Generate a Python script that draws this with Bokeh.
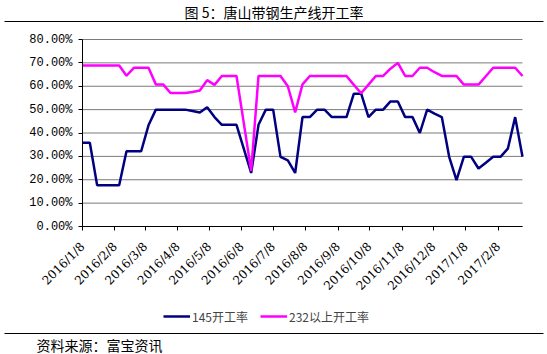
import pandas as pd
from bokeh.plotting import figure
from bokeh.models import (Range1d, FixedTicker, NumeralTickFormatter, Label, Legend,
                          LegendItem, Arrow)
from bokeh.embed import file_html
from bokeh.resources import INLINE

# ---------------- data ----------------
first_week = "2016-01-08"
n_weeks = 61
week_dates = pd.date_range(first_week, periods=n_weeks, freq="7D")

rate_145 = [35.8, 35.8, 17.6, 17.6, 17.6, 17.6, 32.2, 32.2, 32.2, 43.3,
            50.0, 50.0, 50.0, 50.0, 50.0, 49.4, 48.8, 51.0, 46.8, 43.5,
            43.5, 43.5, 33.2, 22.9, 43.5, 50.0, 50.0, 29.8, 28.3, 22.9,
            46.8, 46.8, 50.0, 50.0, 46.8, 46.8, 46.8, 56.8, 56.8, 46.8,
            50.0, 50.0, 53.5, 53.5, 46.8, 46.8, 40.0, 50.0, 48.3, 46.8,
            29.8, 19.8, 29.8, 29.8, 24.8, 27.3, 29.8, 29.8, 33.3, 46.8,
            29.8]

rate_232 = [68.9, 68.9, 68.9, 68.9, 68.9, 68.9, 64.5, 67.9, 67.9, 67.9,
            60.8, 60.8, 57.1, 57.1, 57.1, 57.5, 58.2, 62.6, 60.6, 64.4,
            64.4, 64.4, 44.1, 23.8, 64.4, 64.4, 64.4, 64.4, 60.0, 48.8,
            60.8, 64.4, 64.4, 64.4, 64.4, 64.4, 64.4, 60.6, 57.0, 60.7,
            64.4, 64.4, 67.5, 70.0, 64.4, 64.4, 67.9, 67.9, 66.0, 64.4,
            64.4, 64.4, 60.7, 60.7, 60.7, 64.3, 67.9, 67.9, 67.9, 67.9,
            64.4]

x_tick_labels = ["2016/1/8", "2016/2/8", "2016/3/8", "2016/4/8", "2016/5/8",
                 "2016/6/8", "2016/7/8", "2016/8/8", "2016/9/8", "2016/10/8",
                 "2016/11/8", "2016/12/8", "2017/1/8", "2017/2/8"]
y_ticks = [0.0, 0.1, 0.2, 0.3, 0.4, 0.5, 0.6, 0.7, 0.8]

series_names = ["145开工率", "232以上开工率"]
title_text = "图 5：唐山带钢生产线开工率"
source_text = "资料来源：富宝资讯"

# ---------------- layout (pixels) ----------------
W, H = 547, 354
PL, PR, PT, PB = 82, 522, 39, 226   # plot area edges in the picture
cjk = "Noto Sans CJK SC"

def ms(d):
    return float(pd.Timestamp(d).value // 10**6)

x0_ms, x1_ms = ms(week_dates[0]), ms(week_dates[-1])
ms_per_px = (x1_ms - x0_ms) / (PR - PL)
y_per_px = 0.8 / (PB - PT)

p = figure(width=W, height=H, x_axis_type="datetime", title=None,
           output_backend="svg", toolbar_location=None,
           min_border_left=0, min_border_right=0, min_border_top=0,
           min_border_bottom=0)
p.outline_line_color = None
p.background_fill_color = "white"
p.border_fill_color = "white"

p.x_range = Range1d(x0_ms - PL * ms_per_px, x1_ms + (W - PR) * ms_per_px)
p.y_range = Range1d(-(H - PB) * y_per_px, 0.8 + PT * y_per_px)
p.grid.visible = False

# horizontal grid lines over the data span
p.segment(x0=[week_dates[0]] * len(y_ticks), y0=y_ticks,
          x1=[week_dates[-1]] * len(y_ticks), y1=y_ticks,
          line_color="#7a7a7a", line_width=1)

y145 = [v / 100 for v in rate_145]
y232 = [v / 100 for v in rate_232]
r1 = p.line(week_dates, y145, line_color="#000080", line_width=2.5)
r2 = p.line(week_dates, y232, line_color="#FF00FF", line_width=2.5)

# x axis
tick_ms = [ms(pd.to_datetime(s, format="%Y/%m/%d")) for s in x_tick_labels]
xa = p.xaxis[0]
xa.fixed_location = 0
xa.bounds = (x0_ms, x1_ms)
xa.ticker = FixedTicker(ticks=tick_ms)
xa.major_label_overrides = {t: lab for t, lab in zip(tick_ms, x_tick_labels)}
xa.major_label_orientation = 0.785398
xa.major_label_text_font = "DejaVu Serif"
xa.major_label_text_font_size = "12px"
xa.major_label_text_color = "black"
xa.major_label_standoff = 14
xa.major_tick_in = 0
xa.major_tick_out = 4
xa.minor_tick_line_color = None
xa.axis_line_color = "black"
xa.major_tick_line_color = "black"

# y axis
ya = p.yaxis[0]
ya.fixed_location = x0_ms
ya.bounds = (0, 0.8)
ya.ticker = FixedTicker(ticks=y_ticks)
ya.formatter = NumeralTickFormatter(format="0.00%")
ya.major_label_text_font = "Liberation Mono"
ya.major_label_text_font_size = "12px"
ya.major_label_text_color = "black"
ya.major_label_standoff = 6
ya.major_tick_in = 0
ya.major_tick_out = 4
ya.minor_tick_line_color = None
ya.axis_line_color = "black"
ya.major_tick_line_color = "black"

# legend
legend = Legend(items=[LegendItem(label=series_names[0], renderers=[r1]),
                       LegendItem(label=series_names[1], renderers=[r2])],
                orientation="horizontal", location=(163, H - 326),
                glyph_width=27, glyph_height=20, label_standoff=2, spacing=12,
                padding=0, margin=0, border_line_color=None,
                background_fill_alpha=0,
                label_text_font=cjk, label_text_font_size="12px")
p.add_layout(legend)

# title, rules, source
p.add_layout(Label(x=W / 2, y=H - 11, x_units="screen", y_units="screen",
                   text=title_text, text_align="center", text_baseline="middle",
                   text_font=cjk, text_font_size="14px", text_color="black"))
for yy in (21, 333):
    p.add_layout(Arrow(end=None, x_start=4, y_start=H - yy,
                       x_end=543, y_end=H - yy,
                       start_units="screen", end_units="screen",
                       line_color="black", line_width=1))
p.add_layout(Label(x=36, y=H - 344, x_units="screen", y_units="screen",
                   text=source_text, text_align="left", text_baseline="middle",
                   text_font=cjk, text_font_size="14px", text_color="black"))

open("out.html", "w").write(file_html(p, INLINE))
